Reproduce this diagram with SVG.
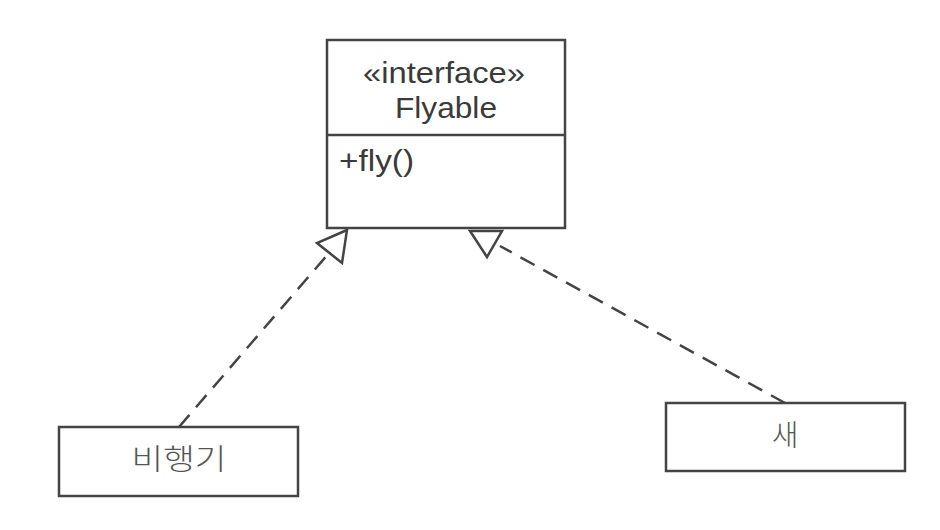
<svg xmlns="http://www.w3.org/2000/svg" width="940" height="530" viewBox="0 0 940 530">
<style>
.box{fill:#fff;stroke:#444;stroke-width:2.5}
.lat{font-family:"Liberation Sans",Arial,sans-serif;fill:#3a3a3a;font-size:29px}
.kor{font-family:"Noto Sans CJK KR","Noto Sans",sans-serif;fill:#555;font-size:29px;font-weight:300}
.dash{fill:none;stroke:#444;stroke-width:2.5;stroke-dasharray:16 10}
.head{fill:#fff;stroke:#444;stroke-width:2.5;stroke-linejoin:miter}
</style>
<rect width="940" height="530" fill="#fff"/>
<g id="connectors">
<line class="dash" x1="179" y1="427" x2="329" y2="253"/>
<line class="dash" x1="785" y1="403" x2="500" y2="246"/>
</g>
<g id="Flyable">
<rect class="box" x="327" y="40" width="238" height="188"/>
<line x1="327" y1="135" x2="565" y2="135" stroke="#444" stroke-width="2.5"/>
<text class="lat" x="444" y="83" text-anchor="middle" textLength="162" lengthAdjust="spacingAndGlyphs">«interface»</text>
<text class="lat" x="446" y="118" text-anchor="middle" textLength="102" lengthAdjust="spacingAndGlyphs">Flyable</text>
<text class="lat" x="339" y="171" textLength="75" lengthAdjust="spacingAndGlyphs">+fly()</text>
</g>
<g id="arrowheads">
<polygon class="head" points="347,230 317,243 342,263"/>
<polygon class="head" points="470,231 502,231 487,257"/>
</g>
<g id="airplane">
<rect class="box" x="59" y="427" width="239" height="69"/>
<text class="kor" x="179" y="470" text-anchor="middle" textLength="95" lengthAdjust="spacingAndGlyphs">비행기</text>
</g>
<g id="bird">
<rect class="box" x="666" y="403" width="239" height="68"/>
<text class="kor" x="785" y="446" text-anchor="middle">새</text>
</g>
</svg>
